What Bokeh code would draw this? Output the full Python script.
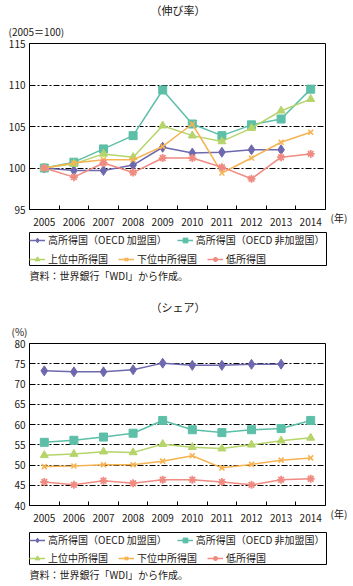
import math
from bokeh.plotting import figure
from bokeh.models import (Range1d, FixedTicker, LinearAxis, Title, CustomJSTickFormatter,
                          Legend, LegendItem, ColumnDataSource)
from bokeh.layouts import column, row
from bokeh.embed import file_html
from bokeh.resources import INLINE

NaN = float("nan")
FONT = "Noto Sans CJK JP"
TXT = "#231815"

years = ["2005", "2006", "2007", "2008", "2009", "2010", "2011", "2012", "2013", "2014"]
series_names = ["高所得国（OECD 加盟国）", "高所得国（OECD 非加盟国）", "上位中所得国", "下位中所得国", "低所得国"]

# (伸び率) 2005=100
growth_high_oecd = [100.0, 99.7, 99.7, 100.35, 102.5, 101.8, 101.9, 102.2, 102.2, NaN]
growth_high_non_oecd = [100.0, 100.7, 102.3, 103.9, 109.4, 105.3, 103.9, 105.2, 105.9, 109.5]
growth_upper_middle = [100.0, 100.5, 101.7, 101.3, 105.1, 103.9, 103.2, 104.8, 106.9, 108.3]
growth_lower_middle = [100.0, 100.6, 101.0, 101.0, 102.6, 105.3, 99.4, 101.2, 103.1, 104.3]
growth_low = [100.0, 98.9, 100.6, 99.45, 101.2, 101.2, 100.1, 98.7, 101.3, 101.7]
growth_ticks = [95, 100, 105, 110, 115]

# (シェア) %
share_high_oecd = [73.25, 73.0, 73.0, 73.5, 75.15, 74.6, 74.6, 74.85, 74.9, NaN]
share_high_non_oecd = [55.6, 56.1, 56.9, 57.85, 61.0, 58.7, 58.0, 58.7, 59.0, 61.0]
share_upper_middle = [52.4, 52.7, 53.3, 53.1, 55.15, 54.4, 54.05, 55.0, 56.0, 56.7]
share_lower_middle = [49.6, 49.75, 50.05, 50.05, 50.95, 52.3, 49.3, 50.15, 51.2, 51.75]
share_low = [45.8, 45.1, 46.1, 45.5, 46.35, 46.35, 45.8, 45.1, 46.35, 46.6]
share_ticks = [40, 45, 50, 55, 60, 65, 70, 75, 80]

source_text = "資料：世界銀行「WDI」から作成。"
year_unit = "(年)"

STYLES = [
    dict(color="#6e69ae", marker="diamond", size=10, lw=1),
    dict(color="#5dbfa8", marker="square", size=8, lw=1),
    dict(color="#b5d46a", marker="triangle", size=8, lw=1),
    dict(color="#f6b351", marker="x", size=7, lw=1.6),
    dict(color="#f08b82", marker="asterisk", size=8, lw=1.8),
]

W = 353
CW = 328  # chart figure width (frame 29..325)


def base_fig(width, height, left, right, top, bottom, **kw):
    p = figure(width=width, height=height, output_backend="svg", toolbar_location=None,
               min_border_left=left, min_border_right=right, min_border_top=top,
               min_border_bottom=bottom, **kw)
    p.background_fill_color = "white"
    p.border_fill_color = "white"
    return p


def text_title(text, align, size, valign, standoff=0, offset=0):
    return Title(text=text, align=align, vertical_align=valign, standoff=standoff,
                 offset=offset, text_font=FONT, text_font_size=size,
                 text_font_style="normal", text_color=TXT)


def text_fig(width, height, left, right, top, bottom, above=None, below=None):
    p = base_fig(width, height, left, right, top, bottom, x_range=Range1d(0, 1),
                 y_range=Range1d(0, 1), x_axis_type=None, y_axis_type=None)
    p.outline_line_color = None
    p.xgrid.grid_line_color = None
    p.ygrid.grid_line_color = None
    if above is not None:
        text, align, size = above
        p.add_layout(text_title(text, align, size, "middle"), "above")
    if below is not None:
        text, align, size = below
        p.add_layout(text_title(text, align, size, "top"), "below")
    return p


def add_series(p, xs, ys, st, visible=True):
    src = ColumnDataSource(dict(x=xs, y=ys))
    ln = p.line("x", "y", source=src, line_color=st["color"], line_width=1.5, visible=visible)
    if st["marker"] in ("x", "asterisk"):
        sc = p.scatter("x", "y", source=src, marker=st["marker"], size=st["size"],
                       line_color=st["color"], line_width=st["lw"], visible=visible)
    else:
        sc = p.scatter("x", "y", source=src, marker=st["marker"], size=st["size"],
                       fill_color=st["color"], line_color=st["color"], line_width=st["lw"],
                       visible=visible)
    return [ln, sc]


def make_chart(series, unit, unit_offset, ymin, ymax, ticks, height, top, bottom):
    p = base_fig(CW, height, 29, 3, top, bottom, x_range=years, y_range=Range1d(ymin, ymax),
                 x_axis_type=None)
    p.outline_line_color = "black"
    p.outline_line_width = 1
    ya = p.yaxis[0]
    ya.ticker = FixedTicker(ticks=ticks)
    ya.major_tick_in = 0
    ya.major_tick_out = 0
    ya.minor_tick_line_color = None
    ya.axis_line_color = "black"
    ya.major_label_standoff = 4
    ya.major_label_text_font = FONT
    ya.major_label_text_font_size = "10px"
    ya.major_label_text_color = TXT
    p.ygrid.grid_line_color = "black"
    p.ygrid.grid_line_dash = "6 2 2 2"
    p.ygrid.grid_line_width = 1
    p.xgrid.grid_line_color = None
    n = len(years)
    xa = LinearAxis(ticker=FixedTicker(ticks=[i + 0.5 for i in range(n)],
                                       minor_ticks=list(range(1, n))),
                    formatter=CustomJSTickFormatter(args=dict(years=years),
                                                    code="return years[Math.floor(tick)] || ''"),
                    major_tick_line_color=None, minor_tick_in=4, minor_tick_out=0,
                    minor_tick_line_color="black", axis_line_color="black",
                    major_label_standoff=2, major_label_text_font=FONT,
                    major_label_text_font_size="10px", major_label_text_color=TXT)
    p.add_layout(xa, "below")
    for ys, st in zip(series, STYLES):
        add_series(p, years, ys, st)
    p.add_layout(text_title(unit, "left", "10px", "top", standoff=6, offset=unit_offset),
                 "above")
    return p


def make_legend(height, top):
    p = base_fig(W, height, 29, 27, top, 0, x_range=Range1d(0, 1), y_range=Range1d(0, 1),
                 x_axis_type=None, y_axis_type=None)
    p.outline_line_color = "black"
    p.outline_line_width = 1
    p.xgrid.grid_line_color = None
    p.ygrid.grid_line_color = None
    rends = []
    for st in STYLES:
        rends.append(add_series(p, [0.5, 0.6], [0.5, 0.5], st, visible=False))
    common = dict(orientation="horizontal", label_text_font=FONT, label_text_font_size="10px",
                  label_text_color=TXT, glyph_width=16, glyph_height=12, label_height=12,
                  label_standoff=3, spacing=10, padding=3, margin=0,
                  border_line_color=None, background_fill_alpha=0)
    lg1 = Legend(items=[LegendItem(label=series_names[i], renderers=rends[i]) for i in (0, 1)],
                 location="top_left", **common)
    lg2 = Legend(items=[LegendItem(label=series_names[i], renderers=rends[i]) for i in (2, 3, 4)],
                 location="bottom_left", **common)
    p.add_layout(lg1, "center")
    p.add_layout(lg2, "center")
    return p


h1 = text_fig(W, 20, 8, 7, 18, 1, above=("（伸び率）", "center", "11px"))
c1 = make_chart([growth_high_oecd, growth_high_non_oecd, growth_upper_middle,
                 growth_lower_middle, growth_low], "(2005＝100)", -21,
                95, 115, growth_ticks, 208, 23, 18)
y1 = text_fig(W - CW, 208, 2, 1, 1, 16, below=(year_unit, "left", "10px"))
l1 = make_legend(38, 4)
s1 = text_fig(W, 30, 4, 4, 17, 11, above=(source_text, "left", "10px"))

h2 = text_fig(W, 24, 11, 4, 19, 4, above=("（シェア）", "center", "11px"))
c2 = make_chart([share_high_oecd, share_high_non_oecd, share_upper_middle,
                 share_lower_middle, share_low], "(%)", -18,
                40, 80, share_ticks, 204, 23, 16)
y2 = text_fig(W - CW, 204, 2, 1, 1, 14, below=(year_unit, "left", "10px"))
l2 = make_legend(41, 8)
s2 = text_fig(W, 21, 4, 4, 17, 2, above=(source_text, "left", "10px"))

layout = column(h1, row(c1, y1, spacing=0), l1, s1, h2, row(c2, y2, spacing=0), l2, s2,
                spacing=0)
open("out.html", "w").write(file_html(layout, INLINE))
